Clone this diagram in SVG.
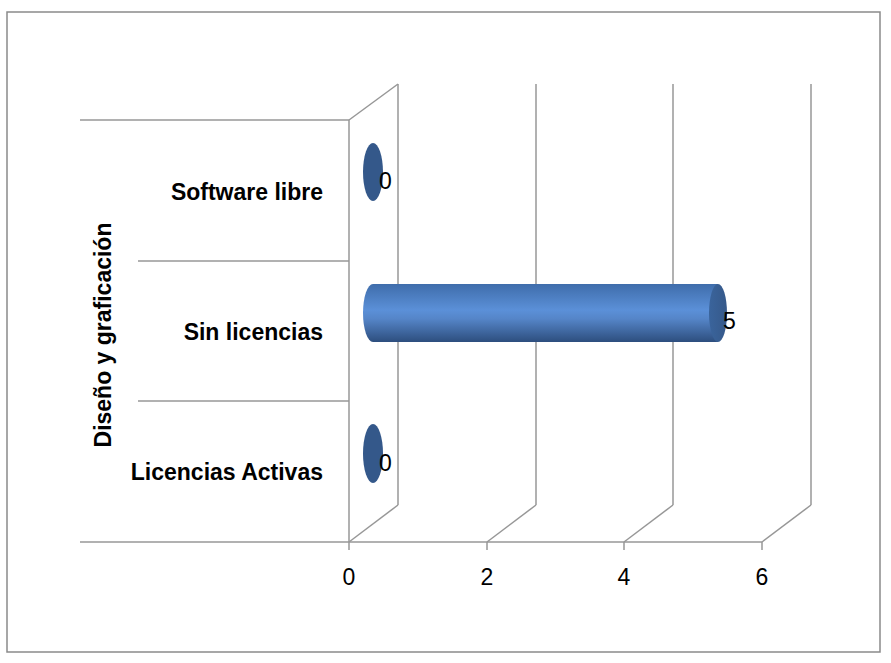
<svg xmlns="http://www.w3.org/2000/svg" width="891" height="663" viewBox="0 0 891 663">
<style>
.grid{stroke:#979797;stroke-width:1.5;fill:none}
.cat{font-family:"Liberation Sans",Arial,sans-serif;font-weight:bold;font-size:23px;fill:#000;text-anchor:end}
.tick{font-family:"Liberation Sans",Arial,sans-serif;font-size:23px;fill:#000;text-anchor:middle}
.val{font-family:"Liberation Sans",Arial,sans-serif;font-size:23px;fill:#000}
.zero{fill:#34588a}
</style>
<defs>
<linearGradient id="cyl" x1="0" y1="0" x2="0" y2="1">
<stop offset="0" stop-color="#3f6dab"/>
<stop offset="0.45" stop-color="#5b90d8"/>
<stop offset="0.6" stop-color="#5585c8"/>
<stop offset="1" stop-color="#2d4e7e"/>
</linearGradient>
<linearGradient id="cap" x1="0" y1="0" x2="1" y2="0">
<stop offset="0" stop-color="#3a649c"/>
<stop offset="1" stop-color="#36598a"/>
</linearGradient>
</defs>
<rect x="7" y="12" width="873" height="640" fill="#fff" stroke="#8a8a8a" stroke-width="1.5"/>
<g id="gridlines" class="grid">
<line x1="349" y1="120" x2="349" y2="542"/>
<line x1="398" y1="84" x2="398" y2="505"/>
<line x1="349" y1="120" x2="398" y2="84"/>
<line x1="349" y1="542" x2="398" y2="505"/>
<line x1="536" y1="84" x2="536" y2="505"/>
<line x1="487" y1="542" x2="536" y2="505"/>
<line x1="673" y1="84" x2="673" y2="505"/>
<line x1="624" y1="542" x2="673" y2="505"/>
<line x1="811" y1="84" x2="811" y2="505"/>
<line x1="762" y1="542" x2="811" y2="505"/>
</g>
<g id="axes" class="grid">
<line x1="80" y1="542" x2="762" y2="542"/>
<line x1="80" y1="120" x2="349" y2="120"/>
<line x1="138" y1="261" x2="349" y2="261"/>
<line x1="138" y1="401" x2="349" y2="401"/>
<line x1="349" y1="542" x2="349" y2="550"/>
<line x1="487" y1="542" x2="487" y2="550"/>
<line x1="624" y1="542" x2="624" y2="550"/>
<line x1="762" y1="542" x2="762" y2="550"/>
</g>
<g id="tick-labels">
<text class="tick" x="349" y="585">0</text>
<text class="tick" x="487" y="585">2</text>
<text class="tick" x="624" y="585">4</text>
<text class="tick" x="762" y="585">6</text>
</g>
<g id="category-labels">
<text class="cat" x="323" y="200">Software libre</text>
<text class="cat" x="323" y="340">Sin licencias</text>
<text class="cat" x="323" y="480">Licencias Activas</text>
</g>
<g id="axis-title">
<text class="cat" style="text-anchor:middle" transform="translate(111,335) rotate(-90)">Diseño y graficación</text>
</g>
<g id="bar-software-libre">
<ellipse class="zero" cx="373" cy="172" rx="10" ry="29"/>
<text class="val" x="379" y="189">0</text>
</g>
<g id="bar-sin-licencias">
<path d="M718,284 L373,284 A10,29 0 0 0 373,342 L718,342 Z" fill="url(#cyl)"/>
<ellipse cx="718" cy="313" rx="9" ry="29" fill="url(#cap)"/>
<text class="val" x="723" y="329">5</text>
</g>
<g id="bar-licencias-activas">
<ellipse class="zero" cx="373" cy="453.5" rx="10" ry="29.5"/>
<text class="val" x="379" y="471">0</text>
</g>
</svg>
